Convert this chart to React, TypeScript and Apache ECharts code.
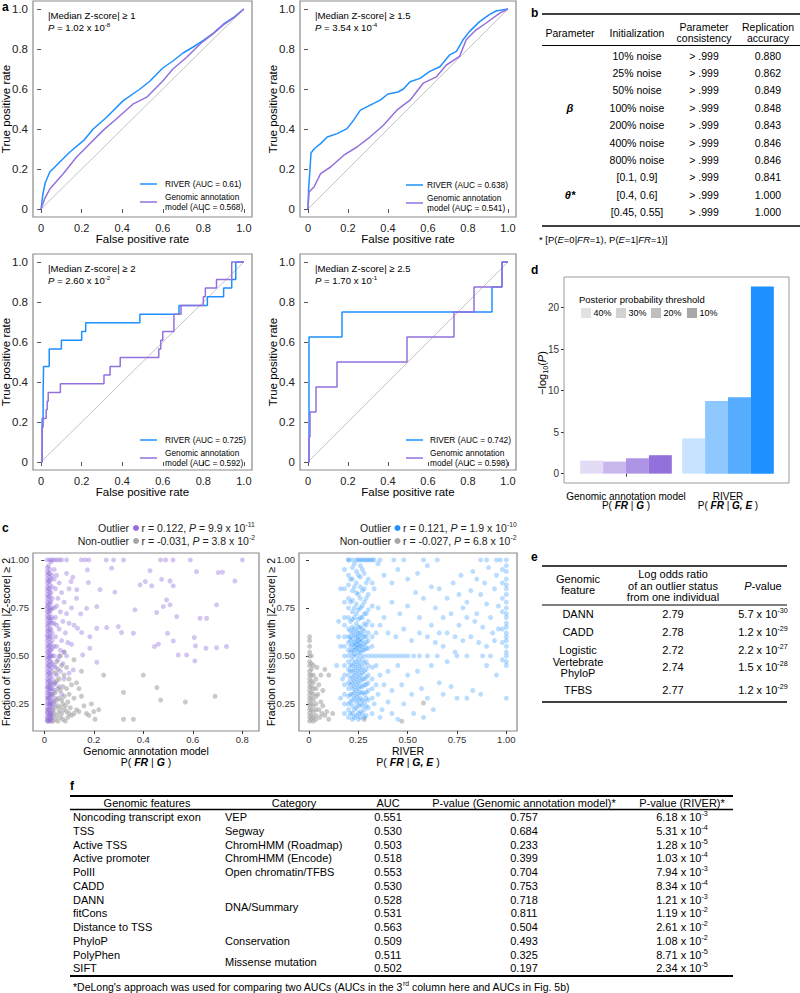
import React, { useEffect, useRef } from 'react';
import * as echarts from 'echarts';

const FONT = '"Liberation Sans", Arial, Helvetica, sans-serif';
const BLUE = '#1E90FF';
const PURPLE = '#9370DB';
const PT_GRAY = '#a6a6a6';
const BOX = '#8a8a8a';

// ---------- panel a : ROC curves ----------
const rocTicks = [0, 0.2, 0.4, 0.6, 0.8, 1.0];
const rocTickLabels = ['0', '0.2', '0.4', '0.6', '0.8', '1.0'];
const rocThresholds = ['1', '1.5', '2', '2.5'];
const rocPMant = ['1.02', '3.54', '2.60', '1.70'];
const rocPExp = ['-8', '-4', '-2', '-1'];
const rocAucRiver = ['0.61', '0.638', '0.725', '0.742'];
const rocAucGA = ['0.568', '0.541', '0.592', '0.598'];

const roc1River = [[0,0],[0.008,0.07],[0.02,0.13],[0.043,0.185],[0.092,0.235],[0.142,0.285],[0.21,0.343],[0.257,0.4],[0.323,0.459],[0.405,0.542],[0.488,0.6],[0.537,0.64],[0.6,0.705],[0.65,0.74],[0.7,0.78],[0.75,0.81],[0.8,0.843],[0.85,0.88],[0.9,0.925],[0.95,0.958],[1,1]];
const roc1GA = [[0,0],[0.018,0.052],[0.043,0.1],[0.109,0.176],[0.175,0.26],[0.24,0.326],[0.306,0.393],[0.372,0.451],[0.455,0.526],[0.521,0.559],[0.6,0.64],[0.65,0.7],[0.718,0.759],[0.784,0.825],[0.85,0.878],[0.9,0.922],[0.949,0.955],[1,1]];
const roc2River = [[0,0],[0.003,0.1],[0.01,0.2],[0.015,0.28],[0.03,0.3],[0.063,0.327],[0.096,0.36],[0.146,0.377],[0.195,0.402],[0.228,0.444],[0.262,0.494],[0.311,0.519],[0.361,0.544],[0.4,0.575],[0.45,0.585],[0.477,0.6],[0.51,0.636],[0.56,0.653],[0.609,0.688],[0.659,0.711],[0.709,0.771],[0.742,0.788],[0.775,0.846],[0.808,0.888],[0.858,0.937],[0.907,0.972],[0.94,0.99],[1,1]];
const roc2GA = [[0,0],[0.005,0.085],[0.03,0.11],[0.063,0.177],[0.113,0.21],[0.179,0.269],[0.245,0.31],[0.311,0.361],[0.377,0.419],[0.444,0.494],[0.51,0.544],[0.576,0.629],[0.642,0.661],[0.692,0.72],[0.758,0.763],[0.791,0.846],[0.841,0.896],[0.891,0.93],[0.957,0.978],[1,1]];
const roc3River = [[0,0],[0.005,0],[0.005,0.217],[0.01,0.217],[0.01,0.348],[0.012,0.348],[0.012,0.478],[0.04,0.478],[0.04,0.565],[0.1,0.565],[0.1,0.609],[0.2,0.609],[0.2,0.652],[0.22,0.652],[0.22,0.696],[0.487,0.696],[0.487,0.739],[0.68,0.739],[0.68,0.783],[0.82,0.783],[0.82,0.826],[0.9,0.826],[0.9,0.87],[0.94,0.87],[0.94,0.913],[0.96,0.913],[0.96,1],[1,1]];
const roc3GA = [[0,0],[0.005,0],[0.005,0.174],[0.01,0.174],[0.01,0.217],[0.025,0.217],[0.025,0.261],[0.03,0.261],[0.03,0.304],[0.035,0.304],[0.035,0.348],[0.095,0.348],[0.095,0.391],[0.31,0.391],[0.31,0.435],[0.34,0.435],[0.34,0.478],[0.39,0.478],[0.39,0.522],[0.58,0.522],[0.58,0.565],[0.59,0.565],[0.59,0.609],[0.6,0.609],[0.6,0.652],[0.655,0.652],[0.655,0.739],[0.69,0.739],[0.69,0.783],[0.8,0.783],[0.8,0.826],[0.81,0.826],[0.81,0.87],[0.865,0.87],[0.865,0.913],[0.94,0.913],[0.94,1],[1,1]];
const roc4River = [[0,0],[0.005,0],[0.005,0.625],[0.17,0.625],[0.17,0.75],[0.92,0.75],[0.92,0.875],[0.97,0.875],[0.97,1],[1,1]];
const roc4GA = [[0,0],[0.005,0],[0.005,0.125],[0.01,0.125],[0.01,0.25],[0.04,0.25],[0.04,0.375],[0.145,0.375],[0.145,0.5],[0.495,0.5],[0.495,0.625],[0.73,0.625],[0.73,0.75],[0.83,0.75],[0.83,0.875],[0.97,0.875],[0.97,1],[1,1]];

// ---------- panel b : table ----------
const bHeader = ['Parameter', 'Initialization', 'Parameter\nconsistency', 'Replication\naccuracy'];
const bInit = ['10% noise','25% noise','50% noise','100% noise','200% noise','400% noise','800% noise','[0.1, 0.9]','[0.4, 0.6]','[0.45, 0.55]'];
const bConsistency = ['> .999','> .999','> .999','> .999','> .999','> .999','> .999','> .999','> .999','> .999'];
const bAccuracy = ['0.880','0.862','0.849','0.848','0.843','0.846','0.846','0.841','1.000','1.000'];

// ---------- panel d : bars ----------
const dGroups = ['Genomic annotation model', 'RIVER'];
const dThresholds = ['40%', '30%', '20%', '10%'];
const dValuesGA = [1.57, 1.45, 1.85, 2.22];
const dValuesRiver = [4.25, 8.75, 9.2, 22.57];
const dTicks = [0, 5, 10, 15, 20];

// ---------- panel c : scatter ----------
const cLeftTicks = [0, 0.2, 0.4, 0.6, 0.8];
const cLeftTickLabels = ['0', '0.2', '0.4', '0.6', '0.8'];
const cRightTicks = [0, 0.25, 0.5, 0.75, 1];
const cRightTickLabels = ['0', '0.25', '0.50', '0.75', '1.00'];
const cYTicks = [0.25, 0.5, 0.75, 1];
const cYTickLabels = ['0.25', '0.50', '0.75', '1.00'];

const gaBandCols = [
  [0.012, [1,0.96,0.94,0.92,0.9,0.88,0.86,0.84,0.82,0.8,0.78,0.76,0.75,0.73,0.71,0.69,0.67,0.65,0.63,0.61,0.6,0.58,0.56,0.54,0.52,0.5,0.48,0.46,0.44,0.42,0.4,0.38,0.36,0.34,0.33,0.31,0.29,0.27,0.25,0.23,0.21,0.2,0.18,0.17,0.16]],
  [0.017, [0.97,0.93,0.89,0.85,0.81,0.77,0.73,0.7,0.66,0.63,0.59,0.55,0.52,0.49,0.45,0.41,0.37,0.34,0.31,0.28,0.25,0.22,0.19,0.17]],
  [0.022, [1,0.95,0.93,0.91,0.89,0.87,0.85,0.83,0.81,0.79,0.77,0.75,0.74,0.72,0.7,0.68,0.67,0.64,0.62,0.6,0.57,0.55,0.53,0.51,0.5,0.49,0.47,0.45,0.43,0.41,0.39,0.37,0.35,0.33,0.32,0.3,0.28,0.26,0.25,0.24,0.22,0.2,0.19,0.17,0.16]],
  [0.027, [0.99,0.9,0.83,0.78,0.74,0.69,0.64,0.6,0.56,0.53,0.5,0.47,0.44,0.4,0.36,0.33,0.29,0.26,0.23,0.2,0.18,0.16]],
  [0.032, [1,0.92,0.86,0.8,0.75,0.7,0.67,0.62,0.58,0.54,0.5,0.46,0.42,0.38,0.33,0.3,0.27,0.24,0.21,0.18]],
];
const gaOutTopX = [0.04,0.05,0.06,0.07,0.09,0.15,0.165,0.18,0.25,0.28,0.32,0.47,0.49,0.52,0.59,0.8];
const gaOutSpread = [[0.04,0.95],[0.05,0.92],[0.06,0.88],[0.045,0.85],[0.07,0.83],[0.055,0.8],[0.08,0.78],[0.05,0.76],[0.065,0.73],[0.09,0.72],[0.045,0.7],[0.075,0.68],[0.1,0.67],[0.05,0.66],[0.06,0.64],[0.085,0.62],[0.045,0.6],[0.07,0.58],[0.095,0.57],[0.05,0.55],[0.065,0.53],[0.08,0.52],[0.04,0.5],[0.06,0.5],[0.09,0.5],[0.055,0.48],[0.075,0.46],[0.045,0.44],[0.065,0.42],[0.1,0.41],[0.05,0.4],[0.08,0.38],[0.045,0.36],[0.06,0.34],[0.04,0.32],[0.07,0.3],[0.045,0.28],[0.11,0.75],[0.12,0.66],[0.11,0.56],[0.13,0.8],[0.09,0.93],[0.1,0.85],[0.115,0.91],[0.04,0.67],[0.04,0.9],[0.04,0.75],[0.04,0.55],[0.04,0.45],[0.04,0.35],[0.04,0.25],
  [0.174,0.948],[0.272,0.957],[0.427,0.944],[0.474,0.899],[0.615,0.939],[0.703,0.934],[0.72,0.936],[0.77,0.89],[0.387,0.87],[0.408,0.887],[0.434,0.865],[0.508,0.89],[0.521,0.865],[0.225,0.845],[0.178,0.882],[0.285,0.832],[0.108,0.887],[0.131,0.845],[0.494,0.792],[0.508,0.766],[0.481,0.757],[0.696,0.766],[0.212,0.757],[0.171,0.748],[0.366,0.74],[0.454,0.726],[0.535,0.705],[0.629,0.696],[0.656,0.696],[0.147,0.719],[0.212,0.644],[0.252,0.648],[0.299,0.653],[0.36,0.618],[0.498,0.618],[0.461,0.561],[0.445,0.549],[0.521,0.578],[0.606,0.596],[0.611,0.552],[0.653,0.54],[0.696,0.543],[0.736,0.549],[0.541,0.505],[0.575,0.505],[0.608,0.474],[0.212,0.467],[0.151,0.622],[0.184,0.6],[0.134,0.644],[0.312,0.622],[0.184,0.54],[0.155,0.505],[0.117,0.427]];
const gaNonOut = [[0.015,0.16],[0.025,0.17],[0.035,0.16],[0.045,0.17],[0.055,0.16],[0.065,0.18],[0.075,0.17],[0.085,0.16],[0.095,0.18],[0.03,0.19],[0.04,0.2],[0.05,0.19],[0.06,0.21],[0.07,0.2],[0.08,0.22],[0.09,0.21],[0.1,0.2],[0.11,0.19],[0.12,0.2],[0.035,0.22],[0.045,0.23],[0.055,0.24],[0.065,0.23],[0.075,0.25],[0.085,0.24],[0.095,0.26],[0.105,0.23],[0.13,0.22],[0.14,0.21],[0.04,0.26],[0.05,0.27],[0.06,0.28],[0.07,0.27],[0.08,0.29],[0.1,0.3],[0.12,0.28],[0.035,0.3],[0.045,0.31],[0.055,0.33],[0.065,0.32],[0.075,0.34],[0.09,0.33],[0.11,0.35],[0.04,0.36],[0.05,0.37],[0.06,0.38],[0.08,0.4],[0.1,0.38],[0.13,0.36],[0.045,0.41],[0.055,0.43],[0.07,0.45],[0.09,0.44],[0.05,0.47],[0.065,0.5],[0.08,0.52],[0.15,0.29],[0.16,0.24],[0.17,0.2],[0.18,0.19],[0.2,0.21],[0.22,0.22],[0.19,0.25],[0.14,0.33],[0.205,0.17],[0.24,0.4],[0.32,0.31],[0.32,0.17],[0.36,0.17],[0.4,0.4],[0.455,0.335],[0.47,0.27],[0.57,0.26],[0.69,0.29],[0.15,0.42],[0.12,0.48],[0.025,0.2],[0.025,0.25],[0.025,0.3],[0.025,0.35],[0.015,0.22],[0.015,0.28]];

const rvOutCols = [
  [0.18, [0.95,0.85,0.78,0.7,0.66,0.6,0.55,0.5,0.45,0.4,0.35,0.3,0.25,0.2]],
  [0.2, [1,0.92,0.87,0.8,0.75,0.7,0.64,0.6,0.57,0.53,0.5,0.47,0.43,0.4,0.36,0.33,0.29,0.25,0.22,0.18]],
  [0.21, [0.9,0.78,0.68,0.63,0.6,0.58,0.55,0.52,0.45,0.42,0.38,0.35,0.3,0.26,0.2]],
  [0.22, [1,0.96,0.9,0.84,0.79,0.73,0.69,0.65,0.62,0.59,0.56,0.53,0.5,0.48,0.45,0.42,0.39,0.36,0.33,0.3,0.27,0.24,0.2,0.17]],
  [0.23, [0.98,0.86,0.75,0.7,0.64,0.61,0.57,0.55,0.53,0.51,0.46,0.43,0.4,0.37,0.34,0.31,0.28,0.22,0.18]],
  [0.24, [1,0.94,0.88,0.83,0.77,0.72,0.667,0.63,0.6,0.58,0.56,0.54,0.5,0.47,0.44,0.41,0.38,0.35,0.32,0.29,0.26,0.23,0.19]],
  [0.25, [0.92,0.82,0.74,0.69,0.65,0.62,0.6,0.58,0.56,0.54,0.52,0.48,0.45,0.42,0.39,0.36,0.33,0.3,0.27,0.24,0.2,0.17]],
  [0.26, [1,0.97,0.91,0.86,0.8,0.75,0.7,0.65,0.62,0.59,0.57,0.55,0.52,0.5,0.46,0.43,0.4,0.37,0.34,0.31,0.28,0.25,0.21,0.18]],
  [0.27, [0.95,0.84,0.76,0.7,0.64,0.61,0.58,0.55,0.53,0.48,0.44,0.41,0.38,0.34,0.31,0.27,0.24,0.2]],
  [0.28, [1,0.93,0.85,0.78,0.72,0.667,0.63,0.6,0.56,0.53,0.5,0.46,0.42,0.38,0.35,0.3,0.26,0.22,0.18]],
  [0.29, [0.88,0.8,0.72,0.66,0.6,0.57,0.54,0.47,0.43,0.39,0.35,0.31,0.28,0.24,0.19]],
  [0.3, [1,0.9,0.82,0.74,0.68,0.62,0.58,0.54,0.5,0.45,0.4,0.36,0.32,0.27,0.23]],
  [0.32, [1,0.88,0.76,0.66,0.6,0.55,0.5,0.44,0.38,0.33,0.28,0.2]],
  [0.98, [0.95,0.88,0.8,0.73,0.64,0.57,0.48]],
  [1.0, [1,0.97,0.94,0.9,0.87,0.85,0.82,0.78,0.75,0.72,0.7,0.67,0.65,0.62,0.6,0.58,0.55,0.52,0.5,0.47,0.45,0.28]],
];
const rvOutTopX = [0.2,0.25,0.27,0.29,0.31,0.33,0.36,0.43,0.48,0.58,0.65,0.87,0.9,0.95,0.97];
const rvOutHalfX = [0.34,0.36,0.38,0.4,0.42,0.44,0.46,0.48,0.5,0.53,0.56,0.6,0.65,0.75,0.8,0.88,0.92];
const rvOutSparse = [[0.35,0.98],[0.38,0.92],[0.42,0.88],[0.45,0.95],[0.5,0.9],[0.55,0.93],[0.6,0.97],[0.62,0.86],[0.66,0.85],[0.7,0.8],[0.73,0.88],[0.76,0.82],[0.78,0.75],[0.8,0.78],[0.82,0.84],[0.85,0.9],[0.87,0.82],[0.9,0.77],[0.92,0.7],[0.94,0.85],[0.95,0.92],[0.96,0.76],[0.93,0.62],[0.88,0.65],[0.84,0.68],[0.8,0.7],[0.76,0.66],[0.72,0.72],[0.68,0.7],[0.64,0.75],[0.58,0.8],[0.54,0.83],[0.5,0.76],[0.46,0.72],[0.42,0.78],[0.38,0.7],[0.35,0.75],[0.36,0.66],[0.4,0.62],[0.44,0.6],[0.48,0.64],[0.52,0.58],[0.56,0.62],[0.6,0.6],[0.64,0.57],[0.68,0.55],[0.7,0.62],[0.74,0.6],[0.78,0.58],[0.82,0.6],[0.86,0.57],[0.9,0.55],[0.94,0.58],[0.96,0.64],[0.85,0.72],[0.74,0.52],[0.7,0.47],[0.62,0.45],[0.55,0.42],[0.5,0.4],[0.45,0.45],[0.4,0.42],[0.36,0.4],[0.38,0.35],[0.42,0.32],[0.47,0.35],[0.52,0.3],[0.57,0.33],[0.6,0.28],[0.66,0.36],[0.68,0.3],[0.72,0.34],[0.75,0.28],[0.8,0.28],[0.83,0.32],[0.87,0.3],[0.9,0.45],[0.95,0.4],[0.35,0.3],[0.37,0.22],[0.42,0.2],[0.48,0.25],[0.53,0.2],[0.58,0.18],[0.63,0.22],[0.36,0.18],[0.45,0.17],[0.4,0.26],[0.33,0.85],[0.34,0.62],[0.34,0.45],[0.34,0.35],[0.33,0.25],[0.56,0.7],[0.62,0.66],[0.66,0.62],[0.89,0.88],[0.91,0.96],[0.83,0.94],[0.77,0.92],[0.16,0.85],[0.15,0.68],[0.16,0.55],[0.17,0.38],[0.16,0.28],[0.15,0.6],[0.14,0.45]];
const rvNonCols = [
  [0.003, [0.6,0.58,0.55,0.52,0.5,0.47,0.45,0.42,0.4,0.38,0.36,0.34,0.32,0.3,0.28,0.26,0.24,0.22,0.2,0.18,0.16]],
  [0.012, [0.5,0.46,0.43,0.4,0.37,0.34,0.31,0.28,0.25,0.22,0.19,0.17]],
  [0.022, [0.45,0.4,0.36,0.33,0.3,0.27,0.24,0.21,0.18,0.16]],
  [0.035, [0.38,0.33,0.29,0.25,0.22,0.19,0.17]],
];
const rvNonSparse = [[0.045,0.3],[0.05,0.22],[0.055,0.18],[0.06,0.26],[0.065,0.2],[0.07,0.24],[0.08,0.19],[0.09,0.21],[0.1,0.17],[0.05,0.35],[0.08,0.43],[0.06,0.4],[0.28,0.17],[0.47,0.16],[0.58,0.255],[0.1,0.4],[0.04,0.44],[0.07,0.32],[0.12,0.2]];

// ---------- panel e : table ----------
const eFeatures = ['DANN', 'CADD', 'Logistic', 'Vertebrate\nPhyloP', 'TFBS'];
const eLogOdds = ['2.79', '2.78', '2.72', '2.74', '2.77'];
const ePMant = ['5.7', '1.2', '2.2', '1.5', '1.2'];
const ePExp = ['-30', '-29', '-27', '-28', '-29'];

// ---------- panel f : table ----------
const fFeatures = ['Noncoding transcript exon','TSS','Active TSS','Active promoter','PolII','CADD','DANN','fitCons','Distance to TSS','PhyloP','PolyPhen','SIFT'];
const fCategories = ['VEP','Segway','ChromHMM (Roadmap)','ChromHMM (Encode)','Open chromatin/TFBS','DNA/Summary','Conservation','Missense mutation'];
const fCategoryRow = [0, 1, 2, 3, 4, 6.5, 9, 10.5];
const fAUC = ['0.551','0.530','0.503','0.518','0.553','0.530','0.528','0.531','0.563','0.509','0.511','0.502'];
const fPGA = ['0.757','0.684','0.233','0.399','0.704','0.753','0.718','0.811','0.504','0.493','0.325','0.197'];
const fPRiverMant = ['6.18','5.31','1.28','1.03','7.94','8.34','1.21','1.19','2.61','1.08','8.71','2.34'];
const fPRiverExp = ['-3','-4','-5','-4','-3','-4','-3','-2','-2','-2','-5','-5'];

// ---------- helpers ----------
function makeRich(size: number, color: string) {
  const base = { fontFamily: FONT, fontSize: size, fill: color, lineHeight: size + 3 };
  const s = Math.round(size * 0.65 * 10) / 10;
  return {
    i: { ...base, fontStyle: 'italic' },
    b: { ...base, fontWeight: 'bold' },
    bi: { ...base, fontWeight: 'bold', fontStyle: 'italic' },
    sup: { fontFamily: FONT, fontSize: s, fill: color, verticalAlign: 'top', lineHeight: s },
    sub: { fontFamily: FONT, fontSize: s, fill: color, verticalAlign: 'bottom', lineHeight: s },
  };
}
function T(x: number, y: number, text: string, o: any = {}) {
  const size = o.size ?? 11;
  const color = o.color ?? '#000';
  const style: any = {
    text, fontFamily: FONT, fontSize: size, fill: color,
    align: o.align ?? 'left', verticalAlign: o.va ?? 'middle', lineHeight: o.lh ?? size + 3,
  };
  if (o.weight) style.fontWeight = o.weight;
  if (o.italic) style.fontStyle = 'italic';
  if (o.rich) style.rich = makeRich(size, color);
  return { type: 'text', x, y, rotation: o.rot ?? 0, silent: true, z: 100, style };
}
function L(x1: number, y1: number, x2: number, y2: number, color = '#000', w = 1) {
  return { type: 'line', silent: true, z: 100, shape: { x1, y1, x2, y2 }, style: { stroke: color, lineWidth: w } };
}
const labelFmt = (vals: number[], labels: string[]) => (v: number) => {
  const i = vals.findIndex((t) => Math.abs(t - v) < 1e-9);
  return i >= 0 ? labels[i] : '';
};
const colsToPoints = (cols: any[]) => cols.flatMap(([x, ys]: any) => ys.map((y: number) => [x, y]));

export default function App() {
  const ref = useRef<HTMLDivElement>(null);
  useEffect(() => {
    if (!ref.current) return;
    const chart = echarts.init(ref.current, undefined, { renderer: 'svg' });

    const rocGrids = [
      { left: 33, top: 1, width: 219, height: 216 },
      { left: 300, top: 1, width: 216, height: 216 },
      { left: 33, top: 254, width: 219, height: 216 },
      { left: 300, top: 254, width: 216, height: 216 },
    ];
    const grids: any[] = rocGrids.map((g) => ({ ...g, show: true, borderColor: BOX, borderWidth: 1.2, backgroundColor: 'transparent' }));
    grids.push({ left: 575, top: 277, width: 204, height: 206, show: false }); // 4: bars
    grids.push({ left: 33, top: 553, width: 226, height: 178, show: true, borderColor: BOX, borderWidth: 1.2 }); // 5
    grids.push({ left: 299, top: 553, width: 218, height: 178, show: true, borderColor: BOX, borderWidth: 1.2 }); // 6

    const xAxes: any[] = [];
    const yAxes: any[] = [];
    const tickStyle = { color: '#555', width: 1 };
    for (let i = 0; i < 4; i++) {
      xAxes.push({
        gridIndex: i, type: 'value', min: -0.04, max: 1.04,
        axisLine: { show: false }, splitLine: { show: false },
        axisTick: { show: true, customValues: rocTicks, length: 4, lineStyle: tickStyle },
        axisLabel: { customValues: rocTicks, formatter: labelFmt(rocTicks, rocTickLabels), fontSize: 11, lineHeight: 11, color: '#222', margin: 5, fontFamily: FONT },
      });
      yAxes.push({
        gridIndex: i, type: 'value', min: -0.04, max: 1.04,
        axisLine: { show: false }, splitLine: { show: false },
        axisTick: { show: true, customValues: rocTicks, length: 4, lineStyle: tickStyle },
        axisLabel: { customValues: rocTicks, formatter: labelFmt(rocTicks, rocTickLabels), fontSize: 11.5, color: '#222', margin: 5, fontFamily: FONT },
      });
    }
    xAxes.push({
      gridIndex: 4, type: 'category', data: dGroups,
      axisLine: { show: false },
      axisTick: { show: true, alignWithLabel: true, length: 3, lineStyle: { color: '#333' } },
      axisLabel: { show: false },
    });
    yAxes.push({
      gridIndex: 4, type: 'value', min: -1.13, max: 23.7, offset: 11,
      axisLine: { show: false }, splitLine: { show: false },
      axisTick: { show: true, customValues: dTicks, length: 3, lineStyle: { color: '#333' } },
      axisLabel: { customValues: dTicks, fontSize: 10, color: '#333', margin: 5, fontFamily: FONT },
    });
    const scX = [
      { min: -0.0457, max: 0.8675, ticks: cLeftTicks, labels: cLeftTickLabels },
      { min: -0.0507, max: 1.054, ticks: cRightTicks, labels: cRightTickLabels },
    ];
    scX.forEach((s, k) => {
      xAxes.push({
        gridIndex: 5 + k, type: 'value', min: s.min, max: s.max,
        axisLine: { show: false }, splitLine: { show: false },
        axisTick: { show: true, customValues: s.ticks, length: 3, lineStyle: { color: '#333' } },
        axisLabel: { customValues: s.ticks, formatter: labelFmt(s.ticks, s.labels), fontSize: 9.5, color: '#333', margin: 3, fontFamily: FONT },
      });
      yAxes.push({
        gridIndex: 5 + k, type: 'value', min: 0.109, max: 1.036,
        axisLine: { show: false }, splitLine: { show: false },
        axisTick: { show: true, customValues: cYTicks, length: 3, lineStyle: { color: '#333' } },
        axisLabel: { customValues: cYTicks, formatter: labelFmt(cYTicks, cYTickLabels), fontSize: 9.5, color: '#333', margin: 4, fontFamily: FONT },
      });
    });

    const series: any[] = [];
    const rocData = [[roc1River, roc1GA], [roc2River, roc2GA], [roc3River, roc3GA], [roc4River, roc4GA]];
    rocData.forEach(([rv, ga], i) => {
      series.push({ type: 'line', xAxisIndex: i, yAxisIndex: i, data: [[0, 0], [1, 1]], showSymbol: false, silent: true, lineStyle: { color: '#c4c4c4', width: 1 } });
      series.push({ type: 'line', name: 'RIVER', xAxisIndex: i, yAxisIndex: i, data: rv, showSymbol: false, silent: true, lineStyle: { color: BLUE, width: 1.5 } });
      series.push({ type: 'line', name: 'Genomic annotation model', xAxisIndex: i, yAxisIndex: i, data: ga, showSymbol: false, silent: true, lineStyle: { color: PURPLE, width: 1.5 } });
    });

    const purpleShades = ['#e4dbf6', '#c9b8ed', '#ae94e4', '#9370DB'];
    const blueShades = ['#c7e3ff', '#8fc8ff', '#56acff', '#1E90FF'];
    dThresholds.forEach((t, k) => {
      series.push({
        type: 'bar', name: t, xAxisIndex: 4, yAxisIndex: 4, barWidth: 22.9, barGap: '0%', silent: true,
        data: [
          { value: dValuesGA[k], itemStyle: { color: purpleShades[k] } },
          { value: dValuesRiver[k], itemStyle: { color: blueShades[k] } },
        ],
      });
    });

    const gaOut = [...colsToPoints(gaBandCols), ...gaOutTopX.map((x) => [x, 1]), ...gaOutSpread];
    const rvOut = [...colsToPoints(rvOutCols), ...rvOutTopX.map((x) => [x, 1]), ...rvOutHalfX.map((x) => [x, 0.5]), ...rvOutSparse];
    const rvNon = [...colsToPoints(rvNonCols), ...rvNonSparse];
    series.push({ type: 'scatter', name: 'Non-outlier', xAxisIndex: 5, yAxisIndex: 5, data: gaNonOut, symbolSize: 5, silent: true, itemStyle: { color: PT_GRAY, opacity: 0.6 } });
    series.push({ type: 'scatter', name: 'Outlier', xAxisIndex: 5, yAxisIndex: 5, data: gaOut, symbolSize: 5, silent: true, itemStyle: { color: PURPLE, opacity: 0.4 } });
    series.push({ type: 'scatter', name: 'Non-outlier', xAxisIndex: 6, yAxisIndex: 6, data: rvNon, symbolSize: 5, silent: true, itemStyle: { color: PT_GRAY, opacity: 0.6 } });
    series.push({ type: 'scatter', name: 'Outlier', xAxisIndex: 6, yAxisIndex: 6, data: rvOut, symbolSize: 5, silent: true, itemStyle: { color: BLUE, opacity: 0.3 } });

    const g: any[] = [];
    g.push(T(2, 7, 'a', { size: 12, weight: 'bold' }));
    g.push(T(531, 13, 'b', { size: 12, weight: 'bold' }));
    g.push(T(2, 528, 'c', { size: 12, weight: 'bold' }));
    g.push(T(531, 270, 'd', { size: 12, weight: 'bold' }));
    g.push(T(531, 557, 'e', { size: 12, weight: 'bold' }));
    g.push(T(70, 786, 'f', { size: 12, weight: 'bold' }));

    const rocLeg = [
      { lx: 140, tx: 165, y: 184 },
      { lx: 406, tx: 427, y: 185 },
      { lx: 140, tx: 165, y: 440 },
      { lx: 406, tx: 430, y: 440 },
    ];
    rocGrids.forEach((gr, i) => {
      const ax = gr.left + 15;
      const ay = gr.top + 14;
      g.push(T(ax, ay, '|Median Z-score| \u2265 ' + rocThresholds[i], { size: 9.6 }));
      g.push(T(ax, ay + 12.5, '{i|P} = ' + rocPMant[i] + ' x 10{sup|' + rocPExp[i] + '}', { size: 9.6, rich: true }));
      const lg = rocLeg[i];
      g.push(L(lg.lx, lg.y, lg.lx + 17, lg.y, BLUE, 1.5));
      g.push(T(lg.tx, lg.y, 'RIVER (AUC = ' + rocAucRiver[i] + ')', { size: 8.3 }));
      g.push(L(lg.lx, lg.y + 18, lg.lx + 17, lg.y + 18, PURPLE, 1.5));
      g.push(T(lg.tx, lg.y + 13, 'Genomic annotation', { size: 8.3 }));
      g.push(T(lg.tx, lg.y + 23, 'model (AUC = ' + rocAucGA[i] + ')', { size: 8.3 }));
      const cx = gr.left + gr.width / 2;
      g.push(T(cx, gr.top + gr.height + 22, 'False positive rate', { size: 11.5, align: 'center', lh: 11.5 }));
      g.push(T(gr.left - 27, gr.top + gr.height / 2, 'True positive rate', { size: 11.5, align: 'center', rot: Math.PI / 2, lh: 11.5 }));
    });

    // panel b table
    g.push(L(542, 14, 800, 14, '#000', 1.5));
    g.push(L(542, 45.5, 800, 45.5, '#000', 1));
    g.push(L(542, 226, 800, 226, '#000', 1.5));
    const bCols = [570, 637, 704, 768];
    bHeader.forEach((h, k) => {
      const lines = h.split('\n');
      if (lines.length === 1) g.push(T(bCols[k], 32.5, h, { size: 10.5, align: 'center' }));
      else lines.forEach((ln, j) => g.push(T(bCols[k], 27.2 + j * 10.8, ln, { size: 10.5, align: 'center', lh: 10.5 })));
    });
    bInit.forEach((s, r) => {
      const y = 55.5 + r * 17.4;
      g.push(T(bCols[1], y, s, { size: 10.5, align: 'center' }));
      g.push(T(bCols[2], y, bConsistency[r], { size: 10.5, align: 'center' }));
      g.push(T(bCols[3], y, bAccuracy[r], { size: 10.5, align: 'center' }));
    });
    g.push(T(bCols[0], 55.5 + 3 * 17.4, '\u03B2', { size: 11, align: 'center', weight: 'bold', italic: true }));
    g.push(T(bCols[0], 55.5 + 8 * 17.4, '\u03B8*', { size: 11, align: 'center', weight: 'bold', italic: true }));
    g.push(T(539, 239, '* [P({i|E}=0|{i|FR}=1), P({i|E}=1|{i|FR}=1)]', { size: 9.5, rich: true }));

    // panel d extras
    g.push({ type: 'rect', silent: true, z: 90, shape: { x: 564, y: 277, width: 225, height: 206 }, style: { fill: 'none', stroke: '#9a9a9a', lineWidth: 1 } });
    g.push(T(579, 299, 'Posterior probability threshold', { size: 9.5 }));
    const swGray = ['#e2e2e2', '#d2d2d2', '#bfbfbf', '#a8a8a8'];
    const swX = [581, 616, 651, 687];
    dThresholds.forEach((t, k) => {
      g.push({ type: 'rect', silent: true, z: 100, shape: { x: swX[k], y: 308, width: 10, height: 10 }, style: { fill: swGray[k] } });
      g.push(T(swX[k] + 12.5, 313, t, { size: 9 }));
    });
    g.push(T(541.5, 373, '\u2212log{sub|10}({i|P})', { size: 11, align: 'center', rot: Math.PI / 2, rich: true }));
    g.push(T(626, 496, dGroups[0], { size: 10, align: 'center', lh: 10 }));
    g.push(T(626, 505.5, 'P( {bi|FR} | {bi|G} )', { size: 10, align: 'center', rich: true }));
    g.push(T(728, 496, dGroups[1], { size: 10, align: 'center', lh: 10 }));
    g.push(T(728, 505.5, 'P( {bi|FR} | {bi|G, E} )', { size: 10, align: 'center', rich: true }));

    // panel c legends and titles
    const cLeg = [
      { ex: 129, dx: 136, tx: 141.5, r1: 'r = 0.122, {i|P} = 9.9 x 10{sup|-11}', r2: 'r = -0.031, {i|P} = 3.8 x 10{sup|-2}', col: PURPLE },
      { ex: 391, dx: 397.5, tx: 403, r1: 'r = 0.121, {i|P} = 1.9 x 10{sup|-10}', r2: 'r = -0.027, {i|P} = 6.8 x 10{sup|-2}', col: BLUE },
    ];
    cLeg.forEach((c) => {
      g.push(T(c.ex, 528, 'Outlier', { size: 10.5, align: 'right', color: '#222' }));
      g.push({ type: 'circle', silent: true, z: 100, shape: { cx: c.dx, cy: 528, r: 3 }, style: { fill: c.col } });
      g.push(T(c.tx, 528, c.r1, { size: 10.5, rich: true, color: '#222' }));
      g.push(T(c.ex, 541, 'Non-outlier', { size: 10.5, align: 'right', color: '#222' }));
      g.push({ type: 'circle', silent: true, z: 100, shape: { cx: c.dx, cy: 541, r: 3 }, style: { fill: PT_GRAY } });
      g.push(T(c.tx, 541, c.r2, { size: 10.5, rich: true, color: '#222' }));
    });
    g.push(T(146, 750.5, dGroups[0], { size: 10.5, align: 'center', lh: 11 }));
    g.push(T(146, 762, 'P( {bi|FR} | {bi|G} )', { size: 10.5, align: 'center', rich: true }));
    g.push(T(408, 750.5, dGroups[1], { size: 10.5, align: 'center', lh: 11 }));
    g.push(T(408, 762, 'P( {bi|FR} | {bi|G, E} )', { size: 10.5, align: 'center', rich: true }));
    g.push(T(6, 642, 'Fraction of tissues with |Z-score| \u2265 2', { size: 10.5, align: 'center', rot: Math.PI / 2, lh: 10.5 }));
    g.push(T(271, 642, 'Fraction of tissues with |Z-score| \u2265 2', { size: 10.5, align: 'center', rot: Math.PI / 2, lh: 10.5 }));

    // panel e table
    g.push(L(542, 566, 787, 566, '#000', 1.5));
    g.push(L(542, 605, 787, 605, '#000', 1));
    g.push(L(542, 702, 787, 702, '#000', 1.5));
    const eCols = [578, 673, 763];
    g.push(T(eCols[0], 579, 'Genomic', { size: 11, align: 'center', lh: 11 }));
    g.push(T(eCols[0], 590, 'feature', { size: 11, align: 'center', lh: 11 }));
    g.push(T(eCols[1], 574, 'Log odds ratio', { size: 11, align: 'center', lh: 11.5 }));
    g.push(T(eCols[1], 585.5, 'of an outlier status', { size: 11, align: 'center', lh: 11.5 }));
    g.push(T(eCols[1], 597, 'from one individual', { size: 11, align: 'center', lh: 11.5 }));
    g.push(T(eCols[2], 585.5, '{i|P}-value', { size: 11, align: 'center', rich: true }));
    const eRowY = [614, 632, 650, 667, 690];
    eFeatures.forEach((f, r) => {
      const lines = f.split('\n');
      if (lines.length === 1) g.push(T(eCols[0], eRowY[r], f, { size: 11, align: 'center' }));
      else lines.forEach((ln, j) => g.push(T(eCols[0], eRowY[r] - 5.5 + j * 11, ln, { size: 11, align: 'center', lh: 11 })));
      g.push(T(eCols[1], eRowY[r], eLogOdds[r], { size: 11, align: 'center' }));
      g.push(T(eCols[2], eRowY[r], ePMant[r] + ' x 10{sup|' + ePExp[r] + '}', { size: 11, align: 'center', rich: true }));
    });

    // panel f table
    g.push(L(70, 796, 733, 796, '#000', 2));
    g.push(L(70, 809.5, 733, 809.5, '#000', 1.5));
    g.push(L(70, 976, 733, 976, '#000', 2));
    g.push(T(147, 803, 'Genomic features', { size: 11, align: 'center', lh: 11 }));
    g.push(T(294, 803, 'Category', { size: 11, align: 'center', lh: 11 }));
    g.push(T(388, 803, 'AUC', { size: 11, align: 'center', lh: 11 }));
    g.push(T(524, 803, 'P-value (Genomic annotation model)*', { size: 11, align: 'center', lh: 11 }));
    g.push(T(682, 803, 'P-value (RIVER)*', { size: 11, align: 'center', lh: 11 }));
    const fy = (r: number) => 817 + r * 13.77;
    fFeatures.forEach((f, r) => {
      g.push(T(73, fy(r), f, { size: 11, lh: 12 }));
      g.push(T(388, fy(r), fAUC[r], { size: 11, align: 'center', lh: 12 }));
      g.push(T(524, fy(r), fPGA[r], { size: 11, align: 'center', lh: 12 }));
      g.push(T(682, fy(r), fPRiverMant[r] + ' x 10{sup|' + fPRiverExp[r] + '}', { size: 11, align: 'center', rich: true }));
    });
    fCategories.forEach((c, k) => g.push(T(225, fy(fCategoryRow[k]), c, { size: 11, lh: 12 })));
    g.push(T(73, 987, "*DeLong's approach was used for comparing two AUCs (AUCs in the 3{sup|rd} column here and AUCs in Fig. 5b)", { size: 10.5, rich: true }));

    chart.setOption({
      animation: false,
      backgroundColor: '#fff',
      textStyle: { fontFamily: FONT },
      grid: grids,
      xAxis: xAxes,
      yAxis: yAxes,
      series,
      graphic: { elements: g },
    });
    return () => chart.dispose();
  }, []);
  return <div ref={ref} style={{ position: 'absolute', left: 0, top: 0, width: 800, height: 993 }} />;
}
